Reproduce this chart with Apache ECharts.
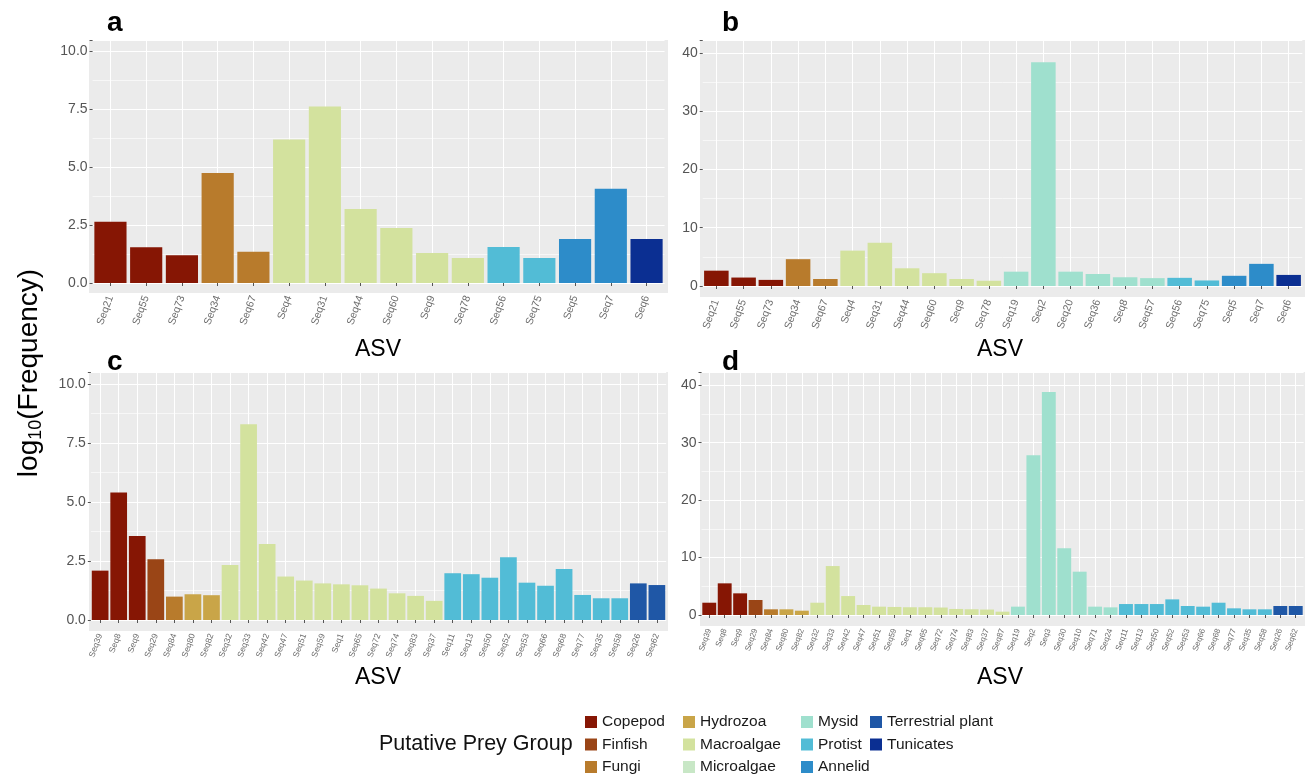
<!DOCTYPE html>
<html>
<head>
<meta charset="utf-8">
<script src="https://cdn.jsdelivr.net/npm/echarts@6/dist/echarts.min.js"></script>
<style>
html,body{margin:0;padding:0;background:#fff;}
#chart{width:1314px;height:778px;}
</style>
</head>
<body>
<div id="chart"></div>
<script>
// ---------------- DATA ----------------
const GROUPS = ['Copepod','Finfish','Fungi','Hydrozoa','Macroalgae','Microalgae','Mysid','Protist','Annelid','Terrestrial plant','Tunicates'];

const catsA = ['Seq21','Seq55','Seq73','Seq34','Seq67','Seq4','Seq31','Seq44','Seq60','Seq9','Seq78','Seq56','Seq75','Seq5','Seq7','Seq6'];
const valsA = [2.65,1.55,1.2,4.75,1.35,6.2,7.63,3.2,2.38,1.3,1.08,1.56,1.08,1.9,4.07,1.9];
const groupsA = ['Copepod','Copepod','Copepod','Fungi','Fungi','Macroalgae','Macroalgae','Macroalgae','Macroalgae','Macroalgae','Macroalgae','Protist','Protist','Annelid','Annelid','Tunicates'];

const catsB = ['Seq21','Seq55','Seq73','Seq34','Seq67','Seq4','Seq31','Seq44','Seq60','Seq9','Seq78','Seq19','Seq2','Seq20','Seq36','Seq8','Seq57','Seq56','Seq75','Seq5','Seq7','Seq6'];
const valsB = [2.63,1.45,1.05,4.6,1.2,6.07,7.44,3.04,2.2,1.2,0.9,2.46,38.4,2.46,2.06,1.5,1.35,1.4,0.95,1.75,3.8,1.9];
const groupsB = ['Copepod','Copepod','Copepod','Fungi','Fungi','Macroalgae','Macroalgae','Macroalgae','Macroalgae','Macroalgae','Macroalgae','Mysid','Mysid','Mysid','Mysid','Mysid','Mysid','Protist','Protist','Annelid','Annelid','Tunicates'];

const catsC = ['Seq39','Seq8','Seq9','Seq29','Seq84','Seq80','Seq82','Seq32','Seq33','Seq42','Seq47','Seq51','Seq59','Seq1','Seq65','Seq72','Seq74','Seq83','Seq37','Seq11','Seq13','Seq50','Seq52','Seq53','Seq66','Seq68','Seq77','Seq35','Seq58','Seq26','Seq62'];
const valsC = [2.09,5.40,3.56,2.57,0.99,1.09,1.05,2.33,8.29,3.22,1.84,1.67,1.55,1.51,1.47,1.33,1.13,1.02,0.81,1.98,1.94,1.79,2.66,1.58,1.45,2.16,1.06,0.92,0.92,1.55,1.48];
const groupsC = ['Copepod','Copepod','Copepod','Finfish','Fungi','Hydrozoa','Hydrozoa','Macroalgae','Macroalgae','Macroalgae','Macroalgae','Macroalgae','Macroalgae','Macroalgae','Macroalgae','Macroalgae','Macroalgae','Macroalgae','Macroalgae','Protist','Protist','Protist','Protist','Protist','Protist','Protist','Protist','Protist','Protist','Terrestrial plant','Terrestrial plant'];

const catsD = ['Seq39','Seq8','Seq9','Seq29','Seq84','Seq80','Seq82','Seq32','Seq33','Seq42','Seq47','Seq51','Seq59','Seq1','Seq65','Seq72','Seq74','Seq83','Seq37','Seq87','Seq19','Seq2','Seq3','Seq30','Seq10','Seq71','Seq24','Seq11','Seq13','Seq50','Seq52','Seq53','Seq66','Seq68','Seq77','Seq35','Seq58','Seq26','Seq62'];
const valsD = [2.14,5.51,3.77,2.61,0.99,0.99,0.75,2.14,8.52,3.3,1.74,1.45,1.4,1.35,1.35,1.3,1.05,1.0,0.95,0.58,1.45,27.8,38.8,11.6,7.54,1.45,1.33,1.91,1.91,1.91,2.72,1.57,1.45,2.14,1.16,0.99,0.99,1.57,1.57];
const groupsD = ['Copepod','Copepod','Copepod','Finfish','Fungi','Hydrozoa','Hydrozoa','Macroalgae','Macroalgae','Macroalgae','Macroalgae','Macroalgae','Macroalgae','Macroalgae','Macroalgae','Macroalgae','Macroalgae','Macroalgae','Macroalgae','Macroalgae','Mysid','Mysid','Mysid','Mysid','Mysid','Mysid','Mysid','Protist','Protist','Protist','Protist','Protist','Protist','Protist','Protist','Protist','Protist','Terrestrial plant','Terrestrial plant'];

const yTicksSmall = [0, 2.5, 5, 7.5, 10];
const yTicksLarge = [0, 10, 20, 30, 40];

// ---------------- STYLE / LAYOUT ----------------
const COLORS = {
  'Copepod':'#861604','Finfish':'#9A4516','Fungi':'#B87B2C','Hydrozoa':'#C9A548',
  'Macroalgae':'#D3E29E','Microalgae':'#C8E7C6','Mysid':'#9FE0CE','Protist':'#52BCD6',
  'Annelid':'#2D8CC9','Terrestrial plant':'#1F57A6','Tunicates':'#0B2F92'
};
const FONT = '"Liberation Sans", Arial, sans-serif';

const panels = [
  {cats:catsA, vals:valsA, groups:groupsA, ticks:yTicksSmall, dec:1, bgL:89, bgR:668, bgT:40, y0:283, bgB:293, ymax:10.5, lfs:10.5, letter:'a', lx:107, ly:23, asvX:378, asvY:350},
  {cats:catsB, vals:valsB, groups:groupsB, ticks:yTicksLarge, dec:0, bgL:700, bgR:1305, bgT:40, y0:286, bgB:297, ymax:42.2, lfs:10.5, letter:'b', lx:722, ly:23, asvX:1000, asvY:350},
  {cats:catsC, vals:valsC, groups:groupsC, ticks:yTicksSmall, dec:1, bgL:89, bgR:668, bgT:372, y0:620, bgB:631, ymax:10.5, lfs:8.5, letter:'c', lx:107, ly:362, asvX:378, asvY:678},
  {cats:catsD, vals:valsD, groups:groupsD, ticks:yTicksLarge, dec:0, bgL:700, bgR:1305, bgT:372, y0:615, bgB:626, ymax:42.3, lfs:8, letter:'d', lx:722, ly:362, asvX:1000, asvY:678}
];

const grid = [], xAxis = [], yAxis = [], series = [], graphics = [];

panels.forEach((p, i) => {
  const n = p.cats.length;
  const unit = (p.bgR - p.bgL) / (n + 0.2);
  const major = p.ticks[1] - p.ticks[0];
  grid.push({
    left: p.bgL + 0.1 * unit, top: p.bgT, width: n * unit, height: p.y0 - p.bgT,
    containLabel: false, outerBoundsMode: 'none', show: false
  });
  xAxis.push({
    type: 'category', gridIndex: i, data: p.cats, offset: p.bgB - p.y0,
    axisLine: {show: false},
    axisTick: {show: true, alignWithLabel: true, length: 3, lineStyle: {color: '#555', width: 1}},
    axisLabel: {interval: 0, rotate: 70, fontSize: p.lfs, color: '#6b6b6b', margin: 3, fontFamily: FONT},
    splitLine: {show: true, alignWithLabel: true, lineStyle: {color: '#ffffff', width: 1}}
  });
  yAxis.push({
    type: 'value', gridIndex: i, min: 0, max: p.ymax, interval: major,
    axisLine: {show: false},
    axisTick: {show: true, length: 3, lineStyle: {color: '#555'}},
    axisLabel: {fontSize: 14, color: '#555555', fontFamily: FONT, margin: 5,
      formatter: v => (Math.abs(v / major - Math.round(v / major)) < 1e-6 && v <= p.ticks[p.ticks.length-1]) ? v.toFixed(p.dec) : ''},
    splitLine: {show: true, lineStyle: {color: '#ffffff', width: 1.2}}
  });
  yAxis.push({
    type: 'value', gridIndex: i, min: 0, max: p.ymax, interval: major / 2, position: 'right',
    axisLine: {show: false}, axisTick: {show: false}, axisLabel: {show: false},
    splitLine: {show: true, lineStyle: {color: '#ffffff', width: 0.6}}
  });
  GROUPS.forEach(g => {
    series.push({
      type: 'bar', name: g, xAxisIndex: i, yAxisIndex: 2 * i, stack: 'panel' + i,
      barCategoryGap: '10%', itemStyle: {color: COLORS[g]},
      emphasis: {disabled: true},
      data: p.vals.map((v, k) => p.groups[k] === g ? v : '-')
    });
  });
  graphics.push({
    type: 'rect', z: -100, silent: true,
    shape: {x: p.bgL, y: p.bgT, width: p.bgR - p.bgL, height: p.bgB - p.bgT},
    style: {fill: '#EBEBEB'}
  });
  graphics.push({
    type: 'text', x: p.lx, y: p.ly, silent: true,
    style: {text: p.letter, fontSize: 28, fontWeight: 'bold', fontFamily: FONT, fill: '#000', align: 'left', verticalAlign: 'middle'}
  });
  graphics.push({
    type: 'text', x: p.asvX, y: p.asvY, silent: true,
    style: {text: 'ASV', fontSize: 23, fontFamily: FONT, fill: '#000', align: 'center', verticalAlign: 'middle'}
  });
});

graphics.push({
  type: 'text', x: 29, y: 373, rotation: Math.PI / 2, silent: true,
  style: {
    text: '{m|log}{s|10}{m|(Frequency)}', align: 'center', verticalAlign: 'middle',
    rich: {
      m: {fontSize: 28, fontFamily: FONT, fill: '#000', color: '#000', lineHeight: 32, verticalAlign: 'middle'},
      s: {fontSize: 18, fontFamily: FONT, fill: '#000', color: '#000', lineHeight: 32, verticalAlign: 'bottom', padding: [11, 0, 0, 0]}
    }
  }
});
graphics.push({
  type: 'text', x: 379, y: 744, silent: true,
  style: {text: 'Putative Prey Group', fontSize: 21.5, fontFamily: FONT, fill: '#111', align: 'left', verticalAlign: 'middle'}
});

// legend columns (3 entries per column, column-major like the reference)
const legendCols = [585, 683, 801, 870];
const legend = legendCols.map((left, c) => ({
  orient: 'vertical', left: left, top: 714, height: 66, padding: 0,
  itemWidth: 12, itemHeight: 12, itemGap: 6.5, icon: 'rect',
  selectedMode: false,
  textStyle: {fontSize: 15.5, color: '#1a1a1a', fontFamily: FONT},
  data: GROUPS.slice(c * 3, c * 3 + 3)
}));

const chart = echarts.init(document.getElementById('chart'), null, {renderer: 'canvas'});
chart.setOption({
  backgroundColor: '#ffffff',
  animation: false,
  textStyle: {fontFamily: FONT},
  grid, xAxis, yAxis, series, legend,
  graphic: {elements: graphics}
});
</script>
</body>
</html>
